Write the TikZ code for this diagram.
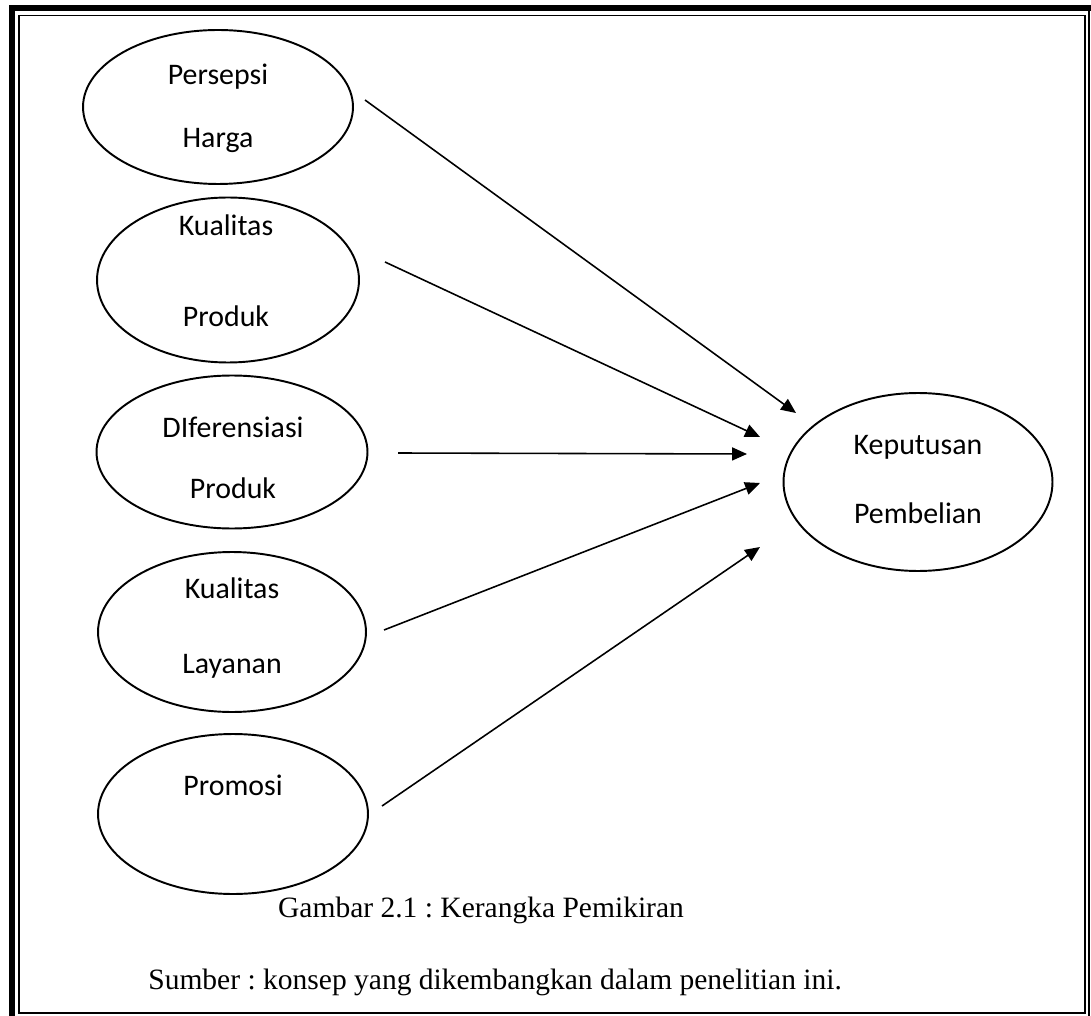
\documentclass[tikz,border=0pt]{standalone}
\usepackage{fontspec}
\setmainfont{Liberation Serif}
\newfontfamily\calibri{Carlito}
\usetikzlibrary{shapes.geometric, arrows.meta, positioning}
\frenchspacing

\begin{document}
\begin{tikzpicture}[x=0.02cm, y=-0.02cm,
  var/.style={draw, ellipse, line width=1.1pt, inner sep=0pt},
  lbl/.style={font=\calibri\fontsize{17}{19}\selectfont, inner sep=0pt},
  link/.style={-{Triangle[length=8.5pt,width=7.4pt]}, line width=0.9pt},
  capt/.style={font=\fontsize{16.8}{20}\selectfont, inner sep=0pt}]
\useasboundingbox (0,0) rectangle (1091,1016);
% --- Page frame (thick-thin) ---
\draw[line width=3.4pt] (12,1016) -- (12,8) -- (1091,8);
\draw[line width=0.9pt] (1089,8) -- (1089,1016);
\draw[line width=1.1pt] (19,15.5) rectangle (1085,1013);
% --- Independent variables ---
\node[var, minimum width=5.4cm, minimum height=3.08cm] (harga) at (218,107) {};
\node[lbl] (harga1) at (218,77) {Persepsi};
\node[lbl] (harga2) at (218,140) {Harga};
\node[var, minimum width=5.24cm, minimum height=3.3cm] (produk) at (228,280) {};
\node[lbl] (produk1) at (226,225) {Kualitas};
\node[lbl] (produk2) at (226,316) {Produk};
\node[var, minimum width=5.42cm, minimum height=3.06cm] (diferensiasi) at (232,452) {};
\node[lbl] (diferensiasi1) at (233,427) {DIferensiasi};
\node[lbl] (diferensiasi2) at (233,488) {Produk};
\node[var, minimum width=5.36cm, minimum height=3.2cm] (layanan) at (232,632) {};
\node[lbl] (layanan1) at (232,588) {Kualitas};
\node[lbl] (layanan2) at (232,666) {Layanan};
\node[var, minimum width=5.4cm, minimum height=3.2cm] (promosi) at (233,814) {};
\node[lbl] (promosi1) at (233,785) {Promosi};
% --- Dependent variable ---
\node[var, minimum width=5.38cm, minimum height=3.56cm] (keputusan) at (918,482) {};
\node[lbl] (keputusan1) at (918,447) {Keputusan};
\node[lbl] (keputusan2) at (918,513) {Pembelian};
% --- Arrows ---
\coordinate (s1) at (365,100);  \coordinate (t1) at (796,413);
\coordinate (s2) at (385,262);  \coordinate (t2) at (760,437);
\coordinate (s3) at (398,453);  \coordinate (t3) at (747,454);
\coordinate (s4) at (384,630);  \coordinate (t4) at (760,483);
\coordinate (s5) at (382,806);  \coordinate (t5) at (760,547);
\draw[link] (s1) -- (t1);
\draw[link] (s2) -- (t2);
\draw[link] (s3) -- (t3);
\draw[link] (s4) -- (t4);
\draw[link] (s5) -- (t5);
% --- Caption ---
\node[capt] (judul) at (481,910) {Gambar 2.1 : Kerangka Pemikiran};
\node[capt, anchor=base west] (sumber) at (148,989) {Sumber : konsep yang dikembangkan dalam penelitian ini.};
\end{tikzpicture}
\end{document}
